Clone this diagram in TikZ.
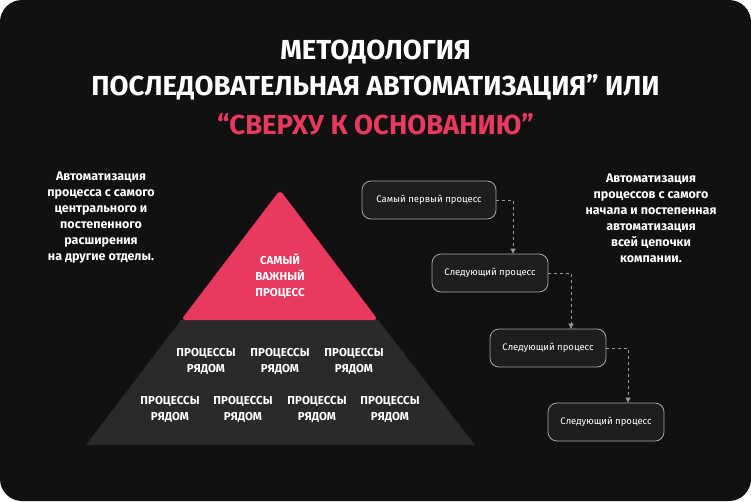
\documentclass[tikz,border=0pt]{standalone}
\usepackage{fontspec}
\setmainfont{Fira Sans}
\usetikzlibrary{arrows.meta}
\definecolor{bg}{HTML}{111111}
\definecolor{pink}{HTML}{E8395F}
\definecolor{dark}{HTML}{2A2A2A}
\definecolor{boxbg}{HTML}{1E1E1E}
\tikzset{
 proc/.style={draw=gray!70,line width=0.8pt,rounded corners=9pt,fill=boxbg,text=white,minimum height=38pt,font=\fontsize{9.5}{10}\selectfont,inner xsep=6pt},
 conn/.style={draw=gray!80,dashed,line width=0.7pt,-{Triangle[length=5pt,width=5pt]}},
 pyr/.style={text=white,align=center,font=\fontsize{11.5}{16}\selectfont\bfseries},
 side/.style={text=white,align=center,font=\fontsize{12.5}{16}\selectfont\bfseries},
}
\begin{document}
\begin{tikzpicture}[x=1pt,y=-1pt]
\useasboundingbox (0,0) rectangle (751,501);
\fill[white] (0,0) rectangle (751,501);
\fill[bg,rounded corners=22pt] (0,0) rectangle (751,501);
\node[text=white,font=\fontsize{27.5}{36}\selectfont\bfseries,align=center] (t1) at (375.5,70) {МЕТОДОЛОГИЯ\\ПОСЛЕДОВАТЕЛЬНАЯ АВТОМАТИЗАЦИЯ” ИЛИ};
\node[text=pink,font=\fontsize{27.5}{30}\selectfont\bfseries] (t2) at (375.5,124) {“СВЕРХУ К ОСНОВАНИЮ”};
% pyramid
\fill[dark] (181,320) -- (378,320) -- (475,445) -- (86,445) -- cycle;
\fill[pink,rounded corners=4pt] (280,190) -- (378,320) -- (181,320) -- cycle;
\node[pyr] (top) at (280,276) {САМЫЙ\\ВАЖНЫЙ\\ПРОЦЕСС};
\foreach \x/\n in {206/a,280/b,354/c}{\node[pyr] (r1\n) at (\x,361) {ПРОЦЕССЫ\\РЯДОМ};}
\foreach \x/\n in {170/a,243/b,317/c,390/d}{\node[pyr] (r2\n) at (\x,409) {ПРОЦЕССЫ\\РЯДОМ};}
\node[side] (lt) at (101,218) {Автоматизация\\процесса с самого\\центрального и\\постепенного\\расширения\\на другие отделы.};
\node[side] (rt) at (651,218) {Автоматизация\\процессов с самого\\начала и постепенная\\автоматизация\\всей цепочки\\компании.};
\node[proc,minimum width=134pt] (b1) at (429,200) {Самый первый процесс};
\node[proc,minimum width=116pt] (b2) at (490,273) {Следующий процесс};
\node[proc,minimum width=116pt] (b3) at (548,348) {Следующий процесс};
\node[proc,minimum width=116pt] (b4) at (606,422) {Следующий процесс};
\draw[conn] (b1.east) -| (b2.north -| 513,0);
\draw[conn] (b2.east) -| (b3.north -| 571,0);
\draw[conn] (b3.east) -| (b4.north -| 628,0);
\end{tikzpicture}
\end{document}
